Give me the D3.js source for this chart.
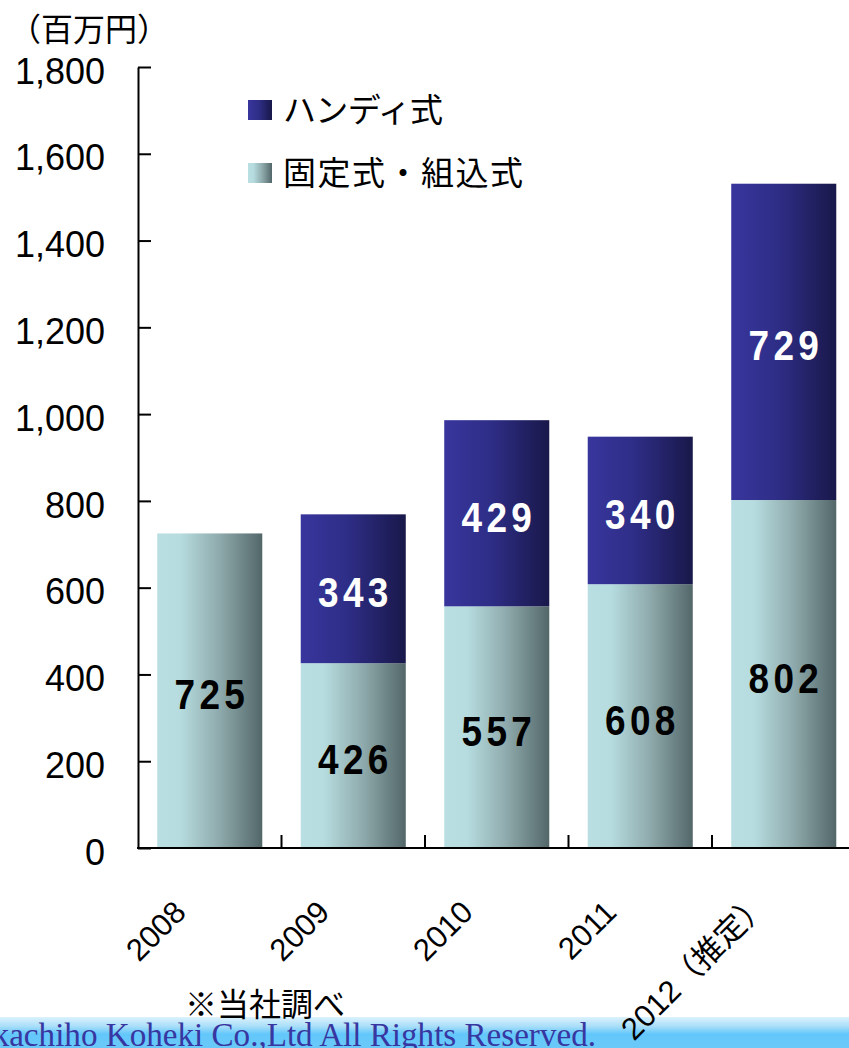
<!DOCTYPE html>
<html>
<head>
<meta charset="utf-8">
<script src="https://cdn.jsdelivr.net/npm/d3@7/dist/d3.min.js"></script>
<style>
  html, body { margin: 0; padding: 0; background: #fff; }
  svg { display: block; }
</style>
</head>
<body>
<svg id="chart" width="849" height="1048"></svg>
<script>
// 市場規模（百万円）：固定式・組込式 と ハンディ式 の積み上げ
const years   = ["2008", "2009", "2010", "2011", "2012（推定）"];
const fixed   = [725, 426, 557, 608, 802];   // 固定式・組込式
const handy   = [0, 343, 429, 340, 729];     // ハンディ式
const yTicks  = [0, 200, 400, 600, 800, 1000, 1200, 1400, 1600, 1800];
const seriesNames = ["ハンディ式", "固定式・組込式"];

const svg = d3.select("#chart");
const sansCJK = "'Noto Sans CJK JP', 'Noto Sans', sans-serif";
const sansNum = "'Liberation Sans', Arial, 'Noto Sans CJK JP', sans-serif";

// gradients
const defs = svg.append("defs");
function hGrad(id, stops) {
  const g = defs.append("linearGradient").attr("id", id)
    .attr("x1", "0%").attr("x2", "100%").attr("y1", "0%").attr("y2", "0%");
  stops.forEach(([o, c]) => g.append("stop").attr("offset", o).attr("stop-color", c));
}
hGrad("gFixed", [["0%", "#b9dfe2"], ["22%", "#b6dcdf"], ["60%", "#8ea9ab"], ["100%", "#536769"]]);
hGrad("gHandy", [["0%", "#38369d"], ["45%", "#2e2d86"], ["100%", "#19184a"]]);
const foot = defs.append("linearGradient").attr("id", "gFoot")
  .attr("x1", "0%").attr("x2", "0%").attr("y1", "0%").attr("y2", "100%");
[["0%", "#dcf2fd"], ["30%", "#a9def9"], ["55%", "#63c7fb"], ["100%", "#6ac9f8"]]
  .forEach(([o, c]) => foot.append("stop").attr("offset", o).attr("stop-color", c));

// scales
const y = d3.scaleLinear().domain([0, 1800]).range([848, 67]);
const x = d3.scaleBand().domain(years).range([138, 855.5])
  .paddingInner(0.268).paddingOuter(0.134);

// footer band with copyright line
svg.append("rect").attr("x", 0).attr("y", 1017).attr("width", 849).attr("height", 31)
  .attr("fill", "url(#gFoot)");
svg.append("text").attr("x", -40).attr("y", 1046)
  .attr("textLength", 636).attr("lengthAdjust", "spacingAndGlyphs")
  .attr("font-family", "'Liberation Serif', serif").attr("font-size", 33)
  .attr("fill", "#3836a0")
  .text("Takachiho Koheki Co.,Ltd All Rights Reserved.");

// stacked bars
const stacks = years.map((yr, i) => ({ yr, fixed: fixed[i], handy: handy[i] }));
const g = svg.append("g");
g.selectAll("rect.fixed").data(stacks).join("rect")
  .attr("class", "fixed")
  .attr("x", d => x(d.yr)).attr("width", x.bandwidth())
  .attr("y", d => y(d.fixed)).attr("height", d => y(0) - y(d.fixed))
  .attr("fill", "url(#gFixed)");
g.selectAll("rect.handy").data(stacks.filter(d => d.handy > 0)).join("rect")
  .attr("class", "handy")
  .attr("x", d => x(d.yr)).attr("width", x.bandwidth())
  .attr("y", d => y(d.fixed + d.handy)).attr("height", d => y(d.fixed) - y(d.fixed + d.handy))
  .attr("fill", "url(#gHandy)");

// value labels: narrow, spaced bold digits
const sx = 0.86, ls = 5;
function valueLabels(data, lo, hi, color) {
  g.selectAll(null).data(data).join("text")
    .attr("transform", d =>
      `translate(${x(d.yr) + x.bandwidth() / 2 + sx * ls / 2},${y((lo(d) + hi(d)) / 2) + 18.5}) scale(${sx},1)`)
    .attr("text-anchor", "middle")
    .attr("font-family", sansNum).attr("font-weight", "bold")
    .attr("font-size", 43).attr("letter-spacing", ls)
    .attr("fill", color)
    .text(d => hi(d) - lo(d));
}
valueLabels(stacks, d => 0, d => d.fixed, "#000");
valueLabels(stacks.filter(d => d.handy > 0), d => d.fixed, d => d.fixed + d.handy, "#fff");

// y axis (ticks point inward)
const yAxis = svg.append("g").attr("transform", "translate(138,0)")
  .call(d3.axisLeft(y).tickValues(yTicks).tickFormat(d3.format(","))
    .tickSizeInner(-13).tickSizeOuter(0).tickPadding(33));
yAxis.select(".domain").attr("stroke", "#000").attr("stroke-width", 2);
yAxis.selectAll(".tick line").attr("stroke", "#000").attr("stroke-width", 2);
yAxis.selectAll(".tick text")
  .attr("font-family", sansNum).attr("font-size", 36).attr("fill", "#000")
  .attr("dy", "0.45em");

// x axis line and category separators
svg.append("line").attr("x1", 137).attr("x2", 849).attr("y1", 848).attr("y2", 848)
  .attr("stroke", "#000").attr("stroke-width", 2);
const step = x.step();
svg.selectAll("line.sep").data(years.slice(1)).join("line")
  .attr("class", "sep")
  .attr("x1", d => x(d) - step * x.paddingInner() / 2)
  .attr("x2", d => x(d) - step * x.paddingInner() / 2)
  .attr("y1", 848).attr("y2", 835)
  .attr("stroke", "#000").attr("stroke-width", 2);

// category labels, rotated
svg.selectAll("text.cat").data(years).join("text")
  .attr("class", "cat")
  .attr("transform", d => `translate(${x(d) + x.bandwidth() / 2 - 22},914) rotate(-45)`)
  .attr("text-anchor", "end")
  .attr("dx", d => d.endsWith("）") ? "0.4em" : 0)
  .attr("font-family", sansNum).attr("font-size", 31).attr("fill", "#000")
  .text(d => d);

// unit label
svg.append("text").attr("x", 9).attr("y", 41)
  .attr("font-family", sansCJK).attr("font-size", 32).attr("fill", "#000")
  .text("（百万円）");

// legend
const legendY = [100, 163];
const legendFill = ["url(#gHandy)", "url(#gFixed)"];
const legendLen = [160, 240];
const lg = svg.append("g");
lg.selectAll("rect").data(seriesNames).join("rect")
  .attr("x", 248).attr("y", (d, i) => legendY[i])
  .attr("width", 24).attr("height", 20)
  .attr("fill", (d, i) => legendFill[i]);
lg.selectAll("text").data(seriesNames).join("text")
  .attr("x", 283).attr("y", (d, i) => legendY[i] + 22)
  .attr("textLength", (d, i) => legendLen[i]).attr("lengthAdjust", "spacing")
  .attr("font-family", sansCJK).attr("font-size", 33).attr("fill", "#000")
  .text(d => d);

// source note
svg.append("text").attr("x", 185).attr("y", 1016)
  .attr("font-family", sansCJK).attr("font-size", 32).attr("fill", "#000")
  .text("※当社調べ");
</script>
</body>
</html>
